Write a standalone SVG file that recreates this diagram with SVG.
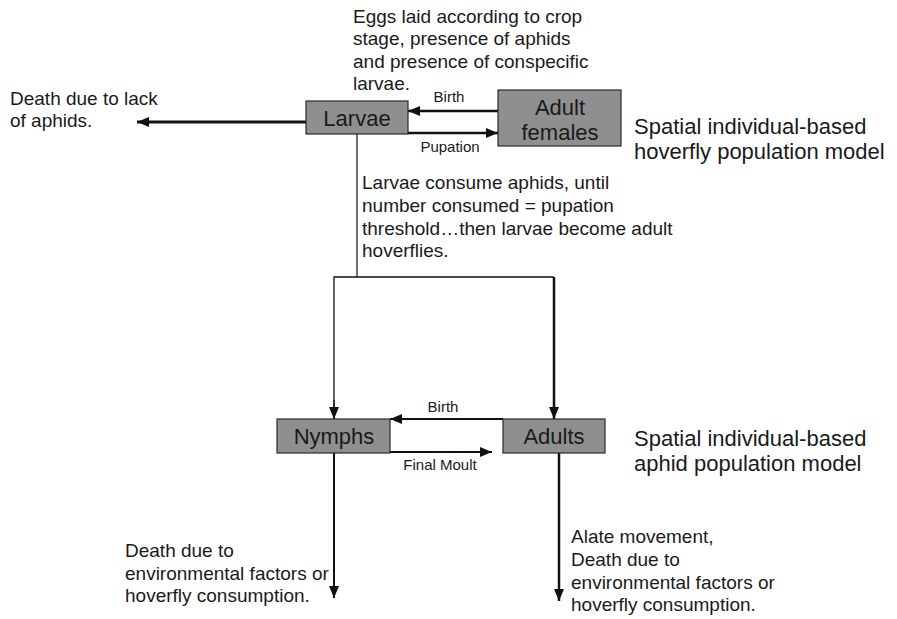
<svg xmlns="http://www.w3.org/2000/svg" width="897" height="619" viewBox="0 0 897 619">
  <style>
    text { font-family: "Liberation Sans", Arial, sans-serif; fill: #1a1a1a; }
    .box { fill: #8f8f8f; stroke: #2a2a2a; stroke-width: 1.2; }
    .lbl { font-size: 22px; text-anchor: middle; }
    .note { font-size: 19px; }
    .small { font-size: 15px; text-anchor: middle; }
    .title { font-size: 22px; }
    .ln { fill: none; stroke: #111; }
  </style>
  <defs>
    <marker id="ah" viewBox="0 0 12 10" refX="12" refY="5" markerWidth="12" markerHeight="10" orient="auto" markerUnits="userSpaceOnUse">
      <path d="M0,0 L12,5 L0,10 z" fill="#111"/>
    </marker>
  </defs>

  <!-- Connectors -->
  <g id="connectors">
    <!-- larvae death -->
    <line class="ln" x1="306" y1="122" x2="137" y2="122" stroke-width="3" marker-end="url(#ah)"/>
    <!-- birth: adult females to larvae -->
    <line class="ln" x1="498" y1="111" x2="408" y2="111" stroke-width="2.5" marker-end="url(#ah)"/>
    <!-- pupation: larvae to adult females -->
    <line class="ln" x1="408" y1="133" x2="498" y2="133" stroke-width="2.5" marker-end="url(#ah)"/>
    <!-- larvae feeding on the aphid stages -->
    <line class="ln" x1="357" y1="134" x2="357" y2="277" stroke-width="1.2"/>
    <polyline class="ln" points="334,419 334,277 554,277" stroke-width="1.3"/>
    <line class="ln" x1="334" y1="400" x2="334" y2="419" stroke-width="1.3" marker-end="url(#ah)"/>
    <line class="ln" x1="554" y1="277" x2="554" y2="419" stroke-width="2.5" marker-end="url(#ah)"/>
    <!-- aphid birth and final moult -->
    <line class="ln" x1="503" y1="419" x2="390" y2="419" stroke-width="2.2" marker-end="url(#ah)"/>
    <line class="ln" x1="390" y1="452" x2="492" y2="452" stroke-width="2.2" marker-end="url(#ah)"/>
    <!-- aphid losses -->
    <line class="ln" x1="334" y1="453" x2="334" y2="598" stroke-width="2" marker-end="url(#ah)"/>
    <line class="ln" x1="559" y1="453" x2="559" y2="601" stroke-width="2.5" marker-end="url(#ah)"/>
  </g>

  <!-- Connector labels and notes -->
  <g id="labels">
    <text class="small" x="449" y="102">Birth</text>
    <text class="small" x="450" y="152">Pupation</text>
    <text class="small" x="443" y="412">Birth</text>
    <text class="small" x="440" y="470">Final Moult</text>
    <text class="note" x="10" y="105">Death due to lack</text>
    <text class="note" x="10" y="127">of aphids.</text>
    <text class="note" x="353" y="23">Eggs laid according to crop</text>
    <text class="note" x="353" y="45">stage, presence of aphids</text>
    <text class="note" x="353" y="68">and presence of conspecific</text>
    <text class="note" x="353" y="90">larvae.</text>
    <text class="note" x="362" y="189">Larvae consume aphids, until</text>
    <text class="note" x="362" y="212">number consumed = pupation</text>
    <text class="note" x="362" y="235">threshold…then larvae become adult</text>
    <text class="note" x="362" y="257">hoverflies.</text>
    <text class="note" x="125" y="557">Death due to</text>
    <text class="note" x="125" y="580">environmental factors or</text>
    <text class="note" x="125" y="602">hoverfly consumption.</text>
    <text class="note" x="571" y="543">Alate movement,</text>
    <text class="note" x="571" y="566">Death due to</text>
    <text class="note" x="571" y="589">environmental factors or</text>
    <text class="note" x="571" y="611">hoverfly consumption.</text>
    <text class="title" x="634" y="134">Spatial individual-based</text>
    <text class="title" x="634" y="159">hoverfly population model</text>
    <text class="title" x="634" y="446">Spatial individual-based</text>
    <text class="title" x="634" y="471">aphid population model</text>
  </g>

  <!-- Nodes -->
  <g id="larvae">
    <rect class="box" x="306" y="101" width="102" height="33"/>
    <text class="lbl" x="357" y="126">Larvae</text>
  </g>
  <g id="adult-females">
    <rect class="box" x="498" y="90" width="123" height="56"/>
    <text class="lbl" x="560" y="115">Adult</text>
    <text class="lbl" x="560" y="140">females</text>
  </g>
  <g id="nymphs">
    <rect class="box" x="277" y="419" width="113" height="34"/>
    <text class="lbl" x="334" y="444">Nymphs</text>
  </g>
  <g id="adults">
    <rect class="box" x="503" y="419" width="102" height="34"/>
    <text class="lbl" x="554" y="444">Adults</text>
  </g>
</svg>
